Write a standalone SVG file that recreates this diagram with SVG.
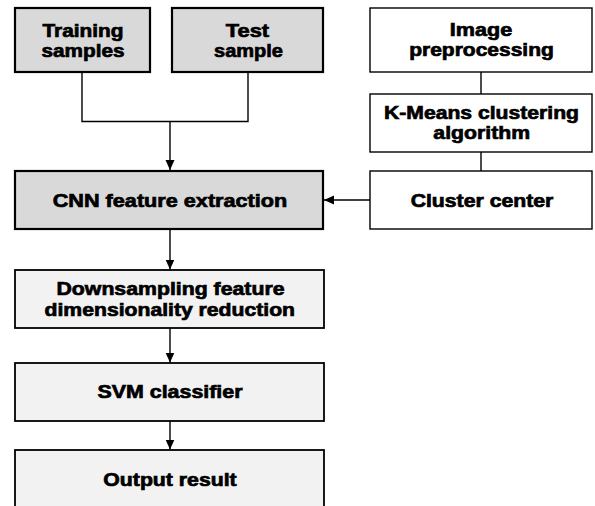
<svg xmlns="http://www.w3.org/2000/svg" width="595" height="506" viewBox="0 0 595 506">
  <style>
    .dark { fill: #d9d9d9; stroke: #000; stroke-width: 2.2; }
    .white { fill: #ffffff; stroke: #000; stroke-width: 1.4; }
    .light { fill: #f2f2f2; stroke: #000; stroke-width: 1.8; }
    text { font-family: "Liberation Sans", Arial, sans-serif; font-weight: bold; font-size: 18.6px; fill: #000; stroke: #000; stroke-width: 0.7px; text-anchor: middle; }
    .conn { fill: none; stroke: #000; stroke-width: 1.4; }
  </style>
  <defs>
    <marker id="arrow" markerUnits="userSpaceOnUse" markerWidth="10" markerHeight="10" viewBox="0 0 10 10" refX="10" refY="5" orient="auto">
      <path d="M0,0.5 L10,5 L0,9.5 Z" fill="#000"/>
    </marker>
  </defs>
  <rect width="595" height="506" fill="#ffffff"/>

  <g id="connectors">
    <polyline class="conn" points="82,72 82,121.5 248,121.5 248,72"/>
    <line class="conn" x1="170" y1="121.5" x2="170" y2="170" marker-end="url(#arrow)"/>
    <line class="conn" x1="481" y1="72" x2="481" y2="94"/>
    <line class="conn" x1="481" y1="152" x2="481" y2="171"/>
    <line class="conn" x1="370" y1="200" x2="324" y2="200" marker-end="url(#arrow)"/>
    <line class="conn" x1="170" y1="229" x2="170" y2="269.5" marker-end="url(#arrow)"/>
    <line class="conn" x1="170" y1="328" x2="170" y2="362.5" marker-end="url(#arrow)"/>
    <line class="conn" x1="170" y1="421" x2="170" y2="449.5" marker-end="url(#arrow)"/>
  </g>

  <g id="training">
    <rect class="dark" x="15" y="8" width="135" height="64"/>
    <text x="83" y="36.7" textLength="81" lengthAdjust="spacingAndGlyphs">Training</text>
    <text x="83" y="56.7" textLength="83" lengthAdjust="spacingAndGlyphs">samples</text>
  </g>
  <g id="test">
    <rect class="dark" x="172" y="8" width="151" height="64"/>
    <text x="247.5" y="36.7" textLength="43.3" lengthAdjust="spacingAndGlyphs">Test</text>
    <text x="248.5" y="56.7" textLength="69" lengthAdjust="spacingAndGlyphs">sample</text>
  </g>
  <g id="preprocessing">
    <rect class="white" x="370" y="8" width="222" height="64"/>
    <text x="481" y="36.3" textLength="62.3" lengthAdjust="spacingAndGlyphs">Image</text>
    <text x="481.5" y="56.3" textLength="144.7" lengthAdjust="spacingAndGlyphs">preprocessing</text>
  </g>
  <g id="kmeans">
    <rect class="white" x="370" y="94" width="222" height="58"/>
    <text x="481.5" y="119" textLength="195" lengthAdjust="spacingAndGlyphs">K-Means clustering</text>
    <text x="481.7" y="139.3" textLength="96.7" lengthAdjust="spacingAndGlyphs">algorithm</text>
  </g>
  <g id="cluster">
    <rect class="white" x="370" y="171" width="222" height="58"/>
    <text x="482" y="206.5" textLength="142.7" lengthAdjust="spacingAndGlyphs">Cluster center</text>
  </g>
  <g id="cnn">
    <rect class="dark" x="15" y="171" width="308" height="58"/>
    <text x="170" y="206.7" textLength="234.6" lengthAdjust="spacingAndGlyphs">CNN feature extraction</text>
  </g>
  <g id="downsampling">
    <rect class="light" x="15" y="270" width="309" height="58"/>
    <text x="170.5" y="295" textLength="228" lengthAdjust="spacingAndGlyphs">Downsampling feature</text>
    <text x="169.8" y="316" textLength="250.5" lengthAdjust="spacingAndGlyphs">dimensionality reduction</text>
  </g>
  <g id="svm">
    <rect class="light" x="15" y="363" width="309" height="58"/>
    <text x="170" y="398.3" textLength="145" lengthAdjust="spacingAndGlyphs">SVM classifier</text>
  </g>
  <g id="output">
    <rect class="light" x="15" y="450" width="309" height="58"/>
    <text x="170" y="485.5" textLength="133.4" lengthAdjust="spacingAndGlyphs">Output result</text>
  </g>
</svg>
